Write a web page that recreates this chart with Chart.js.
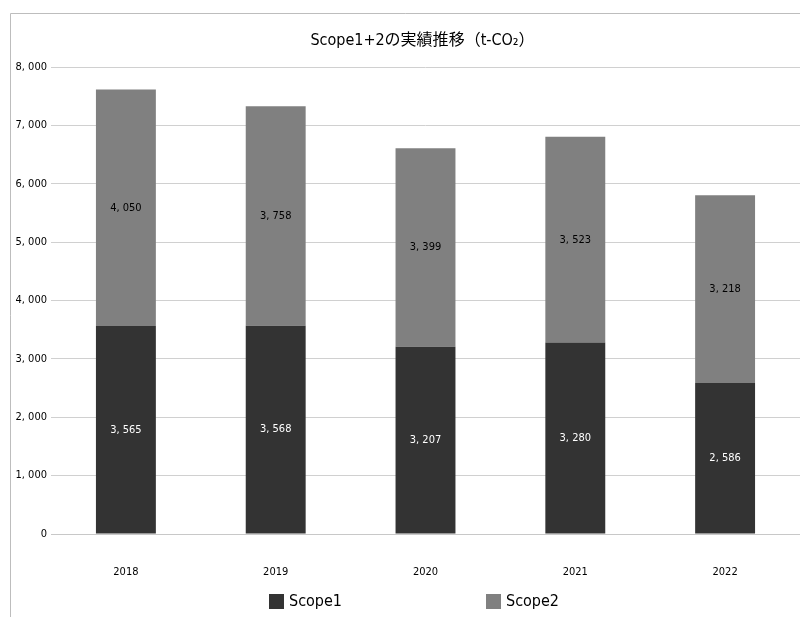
<!DOCTYPE html>
<html>
<head>
  <title>Scope1+2</title>
  <script src="https://cdn.jsdelivr.net/npm/chart.js@4/dist/chart.umd.min.js"></script>
  <style>
    body { margin: 0; background: #fff; }
  </style>
</head>
<body>
  <div style="position: relative; width:800px; height:617px;">
    <canvas id="chart" width="800" height="617"></canvas>
  </div>
  <script>
    var years = ["2018", "2019", "2020", "2021", "2022"];
    var scope1 = [3565, 3568, 3207, 3280, 2586];
    var scope2 = [4050, 3758, 3399, 3523, 3218];
    var titleText = "Scope1+2の実績推移（t-CO₂）";
    var fontFam = "'Liberation Sans Narrow', 'DejaVu Sans Condensed', 'Noto Sans CJK JP', sans-serif";

    function fmt(v) {
      return v.toLocaleString("en-US").replace(/,/g, ", ");
    }

    // frame, title, labels and legend drawn by hand
    var extras = {
      id: "extras",
      beforeDraw: function(chart) {
        var ctx = chart.ctx;
        ctx.save();
        ctx.strokeStyle = "#bdbdbd";
        ctx.lineWidth = 1;
        ctx.beginPath();
        ctx.moveTo(10.5, 617);
        ctx.lineTo(10.5, 13.5);
        ctx.lineTo(800, 13.5);
        ctx.stroke();
        ctx.restore();
      },
      afterDraw: function(chart) {
        var ctx = chart.ctx;
        var area = chart.chartArea;
        ctx.save();
        ctx.fillStyle = "#000";
        ctx.font = "16px " + fontFam;
        ctx.textAlign = "center";
        ctx.textBaseline = "middle";
        ctx.fillText(titleText, (area.left + area.right) / 2 - 3, 41);

        ctx.font = "11px " + fontFam;
        chart.data.datasets.forEach(function(ds, i) {
          var meta = chart.getDatasetMeta(i);
          meta.data.forEach(function(bar, j) {
            ctx.fillStyle = i == 0 ? "#ffffff" : "#000000";
            ctx.fillText(fmt(ds.data[j]), bar.x, (bar.y + bar.base) / 2);
          });
        });

        var lx = [269, 486];
        ctx.font = "16px " + fontFam;
        ctx.textAlign = "left";
        chart.data.datasets.forEach(function(ds, i) {
          ctx.fillStyle = ds.backgroundColor;
          ctx.fillRect(lx[i], 594, 15, 15);
          ctx.fillStyle = "#000";
          ctx.fillText(ds.label, lx[i] + 20, 602);
        });
        ctx.restore();
      }
    };

    new Chart(document.getElementById("chart"), {
      type: "bar",
      data: {
        labels: years,
        datasets: [
          { label: "Scope1", data: scope1, backgroundColor: "#333333" },
          { label: "Scope2", data: scope2, backgroundColor: "#808080" }
        ]
      },
      options: {
        responsive: false,
        animation: false,
        layout: { padding: { top: 67, bottom: 33, left: 0, right: 0 } },
        datasets: { bar: { categoryPercentage: 1, barPercentage: 0.4 } },
        plugins: { legend: { display: false }, title: { display: false }, tooltip: { enabled: false } },
        scales: {
          x: {
            stacked: true,
            grid: { display: false },
            border: { display: true, color: "#c8c8c8" },
            ticks: { color: "#000", padding: 24, font: { size: 11, family: fontFam } },
            afterFit: function(s) { s.height = 50; }
          },
          y: {
            stacked: true,
            min: 0,
            max: 8000,
            grid: { color: "#d0d0d0", drawTicks: false },
            border: { display: false },
            ticks: {
              stepSize: 1000,
              color: "#000",
              padding: 4,
              font: { size: 11, family: fontFam },
              callback: function(v) { return fmt(v); }
            },
            afterFit: function(s) { s.width = 51; }
          }
        }
      },
      plugins: [extras]
    });
  </script>
</body>
</html>
